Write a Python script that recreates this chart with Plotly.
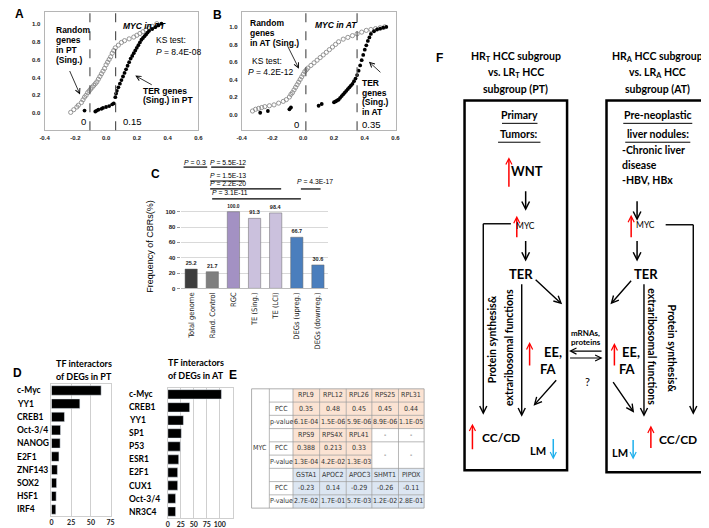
import plotly.graph_objects as go

W, H = 709, 528
def X(p): return p / W
def Y(p): return 1 - p / H

# ---------------- DATA ----------------
# Panel A: cumulative distributions (x = correlation, y = cumulative fraction)
A_rand_x = [-0.23,-0.21,-0.19,-0.18,-0.16,-0.15,-0.14,-0.13,-0.12,-0.11,-0.10,-0.09,-0.08,-0.07,-0.06,-0.05,-0.04,-0.03,-0.02,-0.01,0.00,0.01,0.02,0.03,0.04,0.05,0.06,0.08,0.10,0.12,0.15,0.18,0.20,0.22,0.24,0.26,0.28,0.30,0.33]
A_rand_y = [0.01,0.04,0.07,0.09,0.12,0.15,0.18,0.20,0.23,0.25,0.27,0.29,0.31,0.33,0.35,0.38,0.41,0.44,0.47,0.50,0.54,0.57,0.60,0.63,0.67,0.70,0.73,0.76,0.79,0.81,0.83,0.85,0.87,0.89,0.91,0.93,0.95,0.97,1.00]
A_ter_x = [-0.14,-0.07,-0.06,-0.05,-0.03,-0.02,0.00,0.02,0.04,0.05,0.06,0.065,0.07,0.08,0.09,0.10,0.11,0.12,0.13,0.14,0.15,0.16,0.17,0.18,0.19,0.20,0.21,0.22,0.23,0.24,0.25,0.26,0.27,0.28,0.30,0.32,0.34,0.36]
A_ter_y = [0.03,0.02,0.03,0.04,0.05,0.06,0.07,0.08,0.10,0.11,0.18,0.22,0.25,0.29,0.33,0.37,0.41,0.45,0.49,0.53,0.57,0.61,0.64,0.67,0.70,0.73,0.76,0.79,0.82,0.84,0.86,0.88,0.90,0.92,0.94,0.96,0.98,1.00]
A_thresholds = [-0.105, 0.062]

# Panel B
B_rand_x = [-0.33,-0.31,-0.29,-0.27,-0.25,-0.22,-0.19,-0.16,-0.13,-0.11,-0.09,-0.08,-0.07,-0.06,-0.05,-0.04,-0.03,-0.02,-0.01,0.00,0.01,0.02,0.03,0.05,0.07,0.09,0.11,0.13,0.15,0.17,0.19,0.21,0.23,0.26,0.29,0.32,0.35,0.38,0.41,0.44,0.47,0.50,0.53]
B_rand_y = [0.04,0.06,0.07,0.08,0.09,0.10,0.11,0.13,0.15,0.17,0.20,0.23,0.25,0.28,0.31,0.34,0.37,0.40,0.43,0.46,0.49,0.51,0.53,0.56,0.59,0.62,0.65,0.68,0.71,0.74,0.77,0.80,0.83,0.86,0.88,0.90,0.92,0.94,0.96,0.97,0.98,0.99,1.00]
B_ter_x = [-0.28,-0.23,-0.09,-0.08,0.10,0.12,0.20,0.21,0.22,0.23,0.24,0.25,0.26,0.27,0.28,0.29,0.30,0.31,0.32,0.33,0.34,0.35,0.36,0.37,0.38,0.39,0.40,0.41,0.42,0.43,0.44,0.46,0.48,0.50,0.52,0.54]
B_ter_y = [0.02,0.04,0.06,0.08,0.10,0.12,0.14,0.15,0.16,0.17,0.19,0.21,0.23,0.25,0.27,0.29,0.31,0.33,0.35,0.38,0.41,0.45,0.50,0.56,0.62,0.68,0.74,0.79,0.84,0.88,0.92,0.95,0.97,0.98,0.99,1.00]
B_thresholds = [0.017, 0.35]

# Panel C
C_cats = ["Total genome", "Rand. Control", "RGC", "TE (Sing.)", "TE (LCI)", "DEGs (upreg.)", "DEGs (downreg.)"]
C_vals = [25.2, 21.7, 100.0, 91.3, 98.4, 66.7, 30.6]
C_colors = ["#3d3d3d", "#7f7f7f", "#a391c3", "#cbc1dd", "#cbc1dd", "#4a7ebd", "#4a7ebd"]
C_pvals = ["0.3", "5.5E-12", "1.5E-13", "2.2E-20", "3.1E-11", "4.3E-17"]

# Panel D
D_pt_tf = ["c-Myc", "YY1", "CREB1", "Oct-3/4", "NANOG", "E2F1", "ZNF143", "SOX2", "HSF1", "IRF4"]
D_pt_val = [63, 36, 16.5, 11.5, 11, 9.5, 7.5, 6.5, 6, 5.5]
D_at_tf = ["c-Myc", "CREB1", "YY1", "SP1", "P53", "ESR1", "E2F1", "CUX1", "Oct-3/4", "NR3C4"]
D_at_val = [103, 42, 30, 26, 24, 21, 19, 19, 15, 15]

# Panel E table
E_row_labels = ["", "PCC", "p-value", "", "PCC", "P-value", "", "PCC", "P-value"]
E_g1_genes = ["RPL9", "RPL12", "RPL26", "RPS25", "RPL31"]
E_g1_pcc = ["0.35", "0.48", "0.45", "0.45", "0.44"]
E_g1_p = ["6.1E-04", "1.5E-06", "5.9E-06", "8.9E-06", "1.1E-05"]
E_g2_genes = ["RPS9", "RPS4X", "RPL41", "-", "-"]
E_g2_pcc = ["0.388", "0.213", "0.33"]
E_g2_p = ["1.3E-04", "4.2E-02", "1.3E-03"]
E_g3_genes = ["GSTA1", "APOC2", "APOC3", "SHMT1", "PIPOX"]
E_g3_pcc = ["-0.23", "0.14", "-0.29", "-0.26", "-0.11"]
E_g3_p = ["2.7E-02", "1.7E-01", "5.7E-03", "1.2E-02", "2.8E-01"]

# ---------------- FIGURE ----------------
ARIAL = "Liberation Sans, Arial, sans-serif"
CAL = "Lato, Open Sans, sans-serif"
NARROW = "Liberation Sans Narrow, DejaVu Sans Condensed, Arial Narrow, sans-serif"
tickA = dict(family=ARIAL, size=6, color="#222", weight="bold")

fig = go.Figure()
fig.add_trace(go.Scatter(x=A_rand_x, y=A_rand_y, mode="markers", xaxis="x", yaxis="y",
                         marker=dict(symbol="circle-open", size=4.2, color="#8a8a8a", line=dict(width=0.9))))
fig.add_trace(go.Scatter(x=A_ter_x, y=A_ter_y, mode="markers", xaxis="x", yaxis="y",
                         marker=dict(size=3.8, color="black")))
fig.add_trace(go.Scatter(x=B_rand_x, y=B_rand_y, mode="markers", xaxis="x2", yaxis="y2",
                         marker=dict(symbol="circle-open", size=4.2, color="#8a8a8a", line=dict(width=0.9))))
fig.add_trace(go.Scatter(x=B_ter_x, y=B_ter_y, mode="markers", xaxis="x2", yaxis="y2",
                         marker=dict(size=3.8, color="black")))
fig.add_trace(go.Bar(x=C_cats, y=C_vals, xaxis="x3", yaxis="y3", width=0.58,
                     marker=dict(color=C_colors, line=dict(color="#666", width=0.5)),
                     text=[f"{v:.1f}" for v in C_vals], textposition="outside",
                     textfont=dict(family=ARIAL, size=5.5, color="#222", weight="bold"), cliponaxis=False))
fig.add_trace(go.Bar(y=D_pt_tf, x=D_pt_val, orientation="h", xaxis="x4", yaxis="y4",
                     width=0.72, marker=dict(color="black")))
fig.add_trace(go.Bar(y=D_at_tf, x=D_at_val, orientation="h", xaxis="x5", yaxis="y5",
                     width=0.72, marker=dict(color="black")))

def frame_axis(dom, rng, vals, texts, anchor, **kw):
    d = dict(domain=dom, range=rng, tickvals=vals, ticktext=texts, anchor=anchor,
             showline=True, mirror=True, linecolor="#b5b5b5", linewidth=1,
             showgrid=False, zeroline=False, ticks="", tickfont=tickA)
    d.update(kw)
    return d

xt = [-0.4, -0.2, 0, 0.2, 0.4, 0.6]
xtt = ["-0.4", "-0.2", "0.0", "0.2", "0.4", "0.6"]
yt = [0, 0.2, 0.4, 0.6, 0.8, 1.0]
ytt = ["0.0", "0.2", "0.4", "0.6", "0.8", "1.0"]
tickD = dict(family=CAL, size=7, color="#222", weight="bold")

layout = dict(
    width=W, height=H, margin=dict(l=0, r=0, t=0, b=0),
    paper_bgcolor="white", plot_bgcolor="white", showlegend=False,
    xaxis=frame_axis([X(32), X(188)], [-0.4, 0.6], xt, xtt, "y", ticklabelstandoff=1),
    yaxis=frame_axis([Y(123), Y(4)], [-0.19, 1.13], yt, ytt, "x", ticklabelstandoff=2),
    xaxis2=frame_axis([X(232), X(388)], [-0.4, 0.6], xt, xtt, "y2", ticklabelstandoff=1),
    yaxis2=frame_axis([Y(123), Y(4)], [-0.18, 1.17], yt, ytt, "x2", ticklabelstandoff=2),
    xaxis3=dict(domain=[X(170), X(320)], range=[-0.5, 6.5], anchor="y3", tickangle=-90,
                tickfont=dict(family=NARROW, size=7.5, color="#222"), showline=True,
                linecolor="#bbbbbb", ticks="", showgrid=False),
    yaxis3=dict(domain=[Y(282), Y(201)], range=[0, 105], anchor="x3", tickvals=[0, 20, 40, 60, 80, 100],
                tickfont=tickA, showgrid=True, gridcolor="#d9d9d9", zeroline=False, ticks="outside",
                ticklen=3, tickcolor="#999", showline=False),
    xaxis4=dict(domain=[X(39), X(99)], range=[0, 75], anchor="y4", tickvals=[0, 25, 50, 75],
                tickfont=tickD, showgrid=True, tickangle=0,
                gridcolor="#cfcfcf", zeroline=False, showline=True, mirror=True, linecolor="#cfcfcf",
                ticks="", ticklabelstandoff=0),
    yaxis4=dict(domain=[Y(511), Y(378)], range=[9.5, -0.5], anchor="x4", showticklabels=False,
                showgrid=False, showline=True, mirror=True, linecolor="#cfcfcf", ticks=""),
    xaxis5=dict(domain=[X(157), X(223)], range=[0, 125], anchor="y5", tickvals=[0, 25, 50, 75, 100],
                tickfont=tickD, showgrid=True, tickangle=0,
                gridcolor="#cfcfcf", zeroline=False, showline=True, mirror=True, linecolor="#cfcfcf",
                ticks="", ticklabelstandoff=0),
    yaxis5=dict(domain=[Y(513), Y(382)], range=[9.5, -0.5], anchor="x5", showticklabels=False,
                showgrid=False, showline=True, mirror=True, linecolor="#cfcfcf", ticks=""),
    bargap=0.3,
)
fig.update_layout(**layout)

ann = []
shapes = []

def txt(x, y, s, size=9, family=ARIAL, color="black", xanchor="center", yanchor="middle", angle=0, bold=False):
    ann.append(dict(x=X(x), y=Y(y), xref="paper", yref="paper", text=s, showarrow=False,
                    font=dict(size=size, family=family, color=color, weight="bold" if bold else "normal"),
                    xanchor=xanchor, yanchor=yanchor, textangle=angle))

def arrow(x0, y0, x1, y1, color="black", width=1.4, head=5, size=1.0):
    ann.append(dict(x=X(x1), y=Y(y1), xref="paper", yref="paper", text="", showarrow=True,
                    ax=x0 - x1, ay=y0 - y1, axref="pixel", ayref="pixel", arrowhead=head,
                    arrowsize=size, arrowwidth=width, arrowcolor=color, standoff=0, startstandoff=0,
                    font=dict(size=8)))

def line(x0, y0, x1, y1, color="black", width=1.4, dash=None):
    shapes.append(dict(type="line", xref="paper", yref="paper", x0=X(x0), y0=Y(y0), x1=X(x1), y1=Y(y1),
                       line=dict(color=color, width=width, dash=dash)))

def rect(x0, y0, x1, y1, fill=None, color="black", width=1.0, layer="above"):
    shapes.append(dict(type="rect", xref="paper", yref="paper", x0=X(x0), y0=Y(y0), x1=X(x1), y1=Y(y1),
                       fillcolor=fill if fill else "rgba(0,0,0,0)", line=dict(color=color, width=width), layer=layer))

# panel letters
for L, lx, ly in [("A", 7, 6), ("B", 207, 7), ("C", 145, 167), ("D", 5, 367), ("E", 223, 369), ("F", 433, 50)]:
    txt(lx, ly, L, size=12, bold=True)

# ---- A ----
for t in A_thresholds:
    shapes.append(dict(type="line", xref="x", yref="y domain", x0=t, x1=t, y0=0, y1=1,
                       line=dict(color="#555", width=1.2, dash="dash")))
for i, s in enumerate(["Random", "genes", "in PT", "(Sing.)"]):
    txt(42, 22 + 10 * i, s, size=8.5, bold=True, xanchor="left")
arrow(57, 62, 68, 87, width=0.8, head=5, size=1.2)
txt(133, 18, "<b><i>MYC in PT</i></b>", size=8.5)
txt(143, 32, "KS test:", size=8.5, xanchor="left")
txt(143, 44, "<i>P</i> = 8.4E-08", size=8.5, xanchor="left")
txt(130, 83, "TER genes", size=8.5, bold=True, xanchor="left")
txt(130, 93, "(Sing.) in PT", size=8.5, bold=True, xanchor="left")
arrow(142, 78, 124, 68, width=0.8, head=5, size=1.2)
txt(72, 114, "0", size=9.5)
txt(121, 114, "0.15", size=9.5)

# ---- B ----
for t in B_thresholds:
    shapes.append(dict(type="line", xref="x2", yref="y2 domain", x0=t, x1=t, y0=0, y1=1,
                       line=dict(color="#555", width=1.2, dash="dash")))
for i, s in enumerate(["Random", "genes", "in AT (Sing.)"]):
    txt(238, 15 + 10 * i, s, size=8.5, bold=True, xanchor="left")
arrow(278, 37, 290, 61, width=0.8, head=5, size=1.2)
txt(240, 53, "KS test:", size=8.5, xanchor="left")
txt(236, 64, "<i>P</i> = 4.2E-12", size=8.5, xanchor="left")
txt(328, 17, "<b><i>MYC in AT</i></b>", size=8.5)
for i, s in enumerate(["TER", "genes", "(Sing.)", "in AT"]):
    txt(352, 75 + 10 * i, s, size=8.5, bold=True, xanchor="left")
arrow(374, 66, 361, 54, width=0.8, head=5, size=1.2)
txt(288, 117, "0", size=9.5)
txt(364, 117, "0.35", size=9.5)

# ---- C ----
txt(139, 240, "Frequency of CBRs(%)", size=9, angle=-90)
pv_pos = [(185, 155, 173, 197, 160), (218, 155, 201, 235, 160), (218, 168, 200, 235, 174),
          (218, 177, 200, 272, 182), (220, 186, 202, 292, 192), (306, 174, 292, 312, 182)]
for p, (tx, ty, lx0, lx1, ly) in zip(C_pvals, pv_pos):
    txt(tx, ty, f"<i>P</i> = {p}", size=6.8)
    line(lx0, ly, lx1, ly, width=1.2)

# ---- D ----
txt(72, 358, "TF interactors", size=9, family=CAL, bold=True)
txt(72, 371, "of DEGs in PT", size=9, family=CAL, bold=True)
txt(186, 357, "TF interactors", size=9, family=CAL, bold=True)
txt(186, 370, "of DEGs in AT", size=9, family=CAL, bold=True)
for name in D_pt_tf:
    ann.append(dict(x=X(2), y=name, xref="paper", yref="y4", text=name, showarrow=False, xanchor="left",
                    font=dict(size=8.5, family=CAL, color="black", weight="bold")))
for name in D_at_tf:
    ann.append(dict(x=X(116), y=name, xref="paper", yref="y5", text=name, showarrow=False, xanchor="left",
                    font=dict(size=8.5, family=CAL, color="black", weight="bold")))

# ---- E table ----
cols = [242, 260, 284, 311, 338, 364, 391, 417]
rh = 13.33
r0 = 383
rows = [r0 + rh * k for k in range(10)]
PEACH = "#fbe3d3"
BLUE = "#dce6f2"
for k in range(9):
    for c in range(5):
        x0, x1 = cols[2 + c], cols[3 + c]
        if k < 6:
            if k >= 3 and c >= 3:
                continue
            fill = PEACH
        else:
            fill = BLUE
        rect(x0, rows[k], x1, rows[k + 1], fill=fill, color=fill, width=0, layer="below")
GRID = "#9a9a9a"
rect(cols[0], rows[0], cols[-1], rows[-1], color=GRID, width=0.8)
for cx in cols[1:-1]:
    line(cx, rows[0], cx, rows[-1], color=GRID, width=0.7)
for k in range(1, 9):
    if k == 5:
        line(cols[1], rows[k], cols[5], rows[k], color=GRID, width=0.7)
    else:
        line(cols[1], rows[k], cols[-1], rows[k], color=GRID, width=0.7)

def cell(c, k, s, k2=None):
    xc = (cols[c] + cols[c + 1]) / 2
    yc = (rows[k] + rows[(k2 if k2 is not None else k) + 1]) / 2
    txt(xc, yc, s, size=7, family=NARROW, color="#333")

cell(0, 0, "MYC", k2=8)
for k, s in enumerate(E_row_labels):
    if s:
        cell(1, k, s)
groups = [(0, E_g1_genes, E_g1_pcc, E_g1_p), (3, E_g2_genes, E_g2_pcc, E_g2_p), (6, E_g3_genes, E_g3_pcc, E_g3_p)]
for k0, g, pc, pv in groups:
    for c in range(5):
        cell(2 + c, k0, g[c])
        if c < len(pc):
            cell(2 + c, k0 + 1, pc[c])
            cell(2 + c, k0 + 2, pv[c])
        else:
            cell(2 + c, k0 + 1, "-", k2=k0 + 2)

# ---- F diagram ----
RED = "#ff0000"
SKY = "#1fb0ec"
FS = 10.5
txt(510, 49, "HR<sub>T</sub> HCC subgroup", size=FS, family=CAL, bold=True)
txt(510, 65, "vs. LR<sub>T</sub> HCC", size=FS, family=CAL, bold=True)
txt(510, 81, "subgroup (PT)", size=FS, family=CAL, bold=True)
txt(654, 49, "HR<sub>A</sub> HCC subgroup", size=FS, family=CAL, bold=True)
txt(654, 65, "vs. LR<sub>A</sub> HCC", size=FS, family=CAL, bold=True)
txt(654, 81, "subgroup (AT)", size=FS, family=CAL, bold=True)
rect(458, 93, 562, 465, width=2.5)
rect(602, 93, 706, 467, width=2.5)

# left box
txt(514, 108, "Primary", size=FS, family=CAL, bold=True)
line(496, 116, 532, 116, width=1)
txt(513, 127, "Tumors:", size=FS, family=CAL, bold=True)
line(492, 135, 535, 135, width=1)
arrow(503, 181, 503, 150, color=RED, width=1.5, head=5, size=0.8)
txt(521, 164, "WNT", size=13, family=CAL, bold=True)
arrow(520, 183, 520, 204, width=1.5)
arrow(511, 232, 511, 209, color=RED, width=1.5, head=5, size=0.8)
txt(520, 219, "MYC", size=8.5, family=CAL)
line(477, 217, 505, 217, width=1.4)
arrow(477, 216.5, 477, 409, width=1.4)
arrow(520, 233, 520, 255, width=1.5)
txt(515, 268, "TER", size=13, family=CAL, bold=True)
arrow(516, 277, 516, 411, width=1.4)
arrow(529, 272, 557, 298, width=1.4)
txt(486, 333, "Protein synthesis&", size=10.5, family=CAL, bold=True, angle=-90)
txt(503, 341, "extraribosomal functions", size=10.5, family=CAL, bold=True, angle=-90)
arrow(524, 361, 524, 336, color=RED, width=1.5, head=5, size=0.8)
txt(548, 346, "EE,", size=13, family=CAL, bold=True)
txt(543, 363, "FA", size=13, family=CAL, bold=True)
arrow(552, 373, 528, 400, width=1.4)
arrow(466, 445, 466, 418, color=RED, width=1.5, head=5, size=0.8)
txt(495, 432, "CC/CD", size=12, family=CAL, bold=True)
txt(533, 445, "LM", size=11, family=CAL, bold=True)
arrow(548, 432, 548, 454, color=SKY, width=1.5, head=5, size=0.8)

# middle
txt(564, 327, "mRNAs,", size=8, family=CAL, bold=True, xanchor="left")
txt(564, 336, "proteins", size=8, family=CAL, bold=True, xanchor="left")
arrow(598, 345, 564, 345, width=1.2)
arrow(564, 352, 598, 352, width=1.2)
txt(583, 376, "?", size=11, family=CAL)

# right box
txt(654, 108, "Pre-neoplastic", size=FS, family=CAL, bold=True)
line(619, 116, 689, 116, width=1)
txt(654, 127, "liver nodules:", size=FS, family=CAL, bold=True)
line(621, 135, 687, 135, width=1)
txt(616, 143, "-Chronic liver", size=FS, family=CAL, bold=True, xanchor="left")
txt(616, 158, "disease", size=FS, family=CAL, bold=True, xanchor="left")
txt(616, 173, "-HBV, HBx", size=FS, family=CAL, bold=True, xanchor="left")
arrow(633, 193, 633, 214, width=1.5)
arrow(627, 232, 627, 208, color=RED, width=1.5, head=5, size=0.8)
txt(642, 218, "MYC", size=8.5, family=CAL)
line(662, 218, 690, 218, width=1.4)
arrow(690, 217.5, 690, 409, width=1.4)
arrow(633, 233, 633, 255, width=1.5)
txt(642, 268, "TER", size=13, family=CAL, bold=True)
arrow(628, 273, 606, 298, width=1.4)
arrow(640, 277, 640, 411, width=1.4)
txt(648, 341, "extraribosomal functions", size=10.5, family=CAL, bold=True, angle=90)
txt(668, 342, "Protein synthesis&", size=10.5, family=CAL, bold=True, angle=90)
arrow(610, 361, 610, 337, color=RED, width=1.5, head=5, size=0.8)
txt(627, 346, "EE,", size=13, family=CAL, bold=True)
txt(623, 363, "FA", size=13, family=CAL, bold=True)
arrow(608, 375, 630, 407, width=1.4)
txt(616, 447, "LM", size=11, family=CAL, bold=True)
arrow(629, 433, 629, 454, color=SKY, width=1.5, head=5, size=0.8)
arrow(647, 444, 647, 420, color=RED, width=1.5, head=5, size=0.8)
txt(675, 434, "CC/CD", size=12, family=CAL, bold=True)

fig.update_layout(annotations=ann, shapes=shapes)
fig.write_html("out.html")
